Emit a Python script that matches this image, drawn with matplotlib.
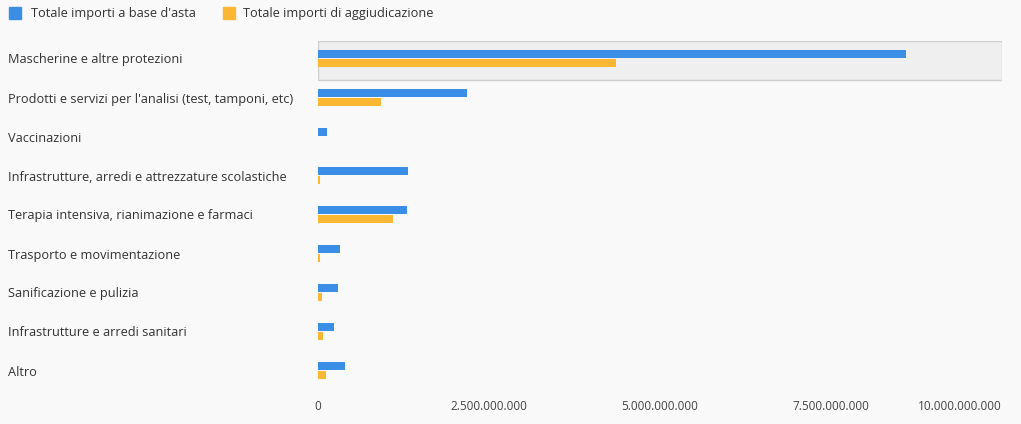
import matplotlib
matplotlib.use("Agg")
import matplotlib.pyplot as plt
from matplotlib.patches import Rectangle
import numpy as np

categories = ["Mascherine e altre protezioni",
              "Prodotti e servizi per l'analisi (test, tamponi, etc)",
              "Vaccinazioni",
              "Infrastrutture, arredi e attrezzature scolastiche",
              "Terapia intensiva, rianimazione e farmaci",
              "Trasporto e movimentazione",
              "Sanificazione e pulizia",
              "Infrastrutture e arredi sanitari",
              "Altro"]
base_asta = [8.6e9, 2.18e9, 0.13e9, 1.32e9, 1.30e9, 0.32e9, 0.29e9, 0.23e9, 0.39e9]
aggiudicazione = [4.36e9, 0.92e9, 0.0, 0.03e9, 1.10e9, 0.03e9, 0.06e9, 0.07e9, 0.12e9]
ticks = [0, 2.5e9, 5e9, 7.5e9, 10e9]
tick_labels = ["0", "2.500.000.000", "5.000.000.000", "7.500.000.000", "10.000.000.000"]

plt.rcParams['font.family'] = ['Open Sans', 'DejaVu Sans']
W, H = 1021, 424
fig = plt.figure(figsize=(W/100, H/100), dpi=100, facecolor='#f9f9f9')
ax = fig.add_axes([318/W, 1-392/H, (1002-318)/W, (392-41)/H])
ax.set_facecolor('#f9f9f9')
n = len(categories)
y = np.arange(n)
bh = 0.2
ax.barh(y - bh/2 - 0.07, base_asta, height=bh, color='#3a8ee6', zorder=3)
ax.barh(y + bh/2 - 0.03, aggiudicazione, height=bh, color='#fbb731', zorder=3)
ax.set_ylim(n - 0.5, -0.5)
ax.set_xlim(0, 10e9)
ax.add_patch(Rectangle((0, -0.5), 10e9, 1, facecolor='#efefef', edgecolor='#d0d0d0', lw=1, zorder=1))
ax.set_yticks([])
ax.set_xticks(ticks)
ax.set_xticklabels(tick_labels, fontsize=8.5, color='#444444')
ax.get_xticklabels()[-1].set_horizontalalignment('right')
ax.tick_params(axis='x', length=0, pad=6)
for s in ax.spines.values():
    s.set_visible(False)
for i, c in enumerate(categories):
    ax.text(8/W, 1-(60+39*i)/H, c, transform=fig.transFigure, fontsize=9.2,
            color='#333333', va='center', ha='left')
fig.patches.append(Rectangle((9/W, 1-19/H), 12/W, 12/H, transform=fig.transFigure, color='#3a8ee6'))
fig.text(31/W, 1-13/H, "Totale importi a base d'asta", fontsize=9.2, color='#333333', va='center')
fig.patches.append(Rectangle((223/W, 1-19/H), 12/W, 12/H, transform=fig.transFigure, color='#fbb731'))
fig.text(243/W, 1-13/H, "Totale importi di aggiudicazione", fontsize=9.2, color='#333333', va='center')
fig.savefig("out.png", dpi=100, facecolor=fig.get_facecolor())
